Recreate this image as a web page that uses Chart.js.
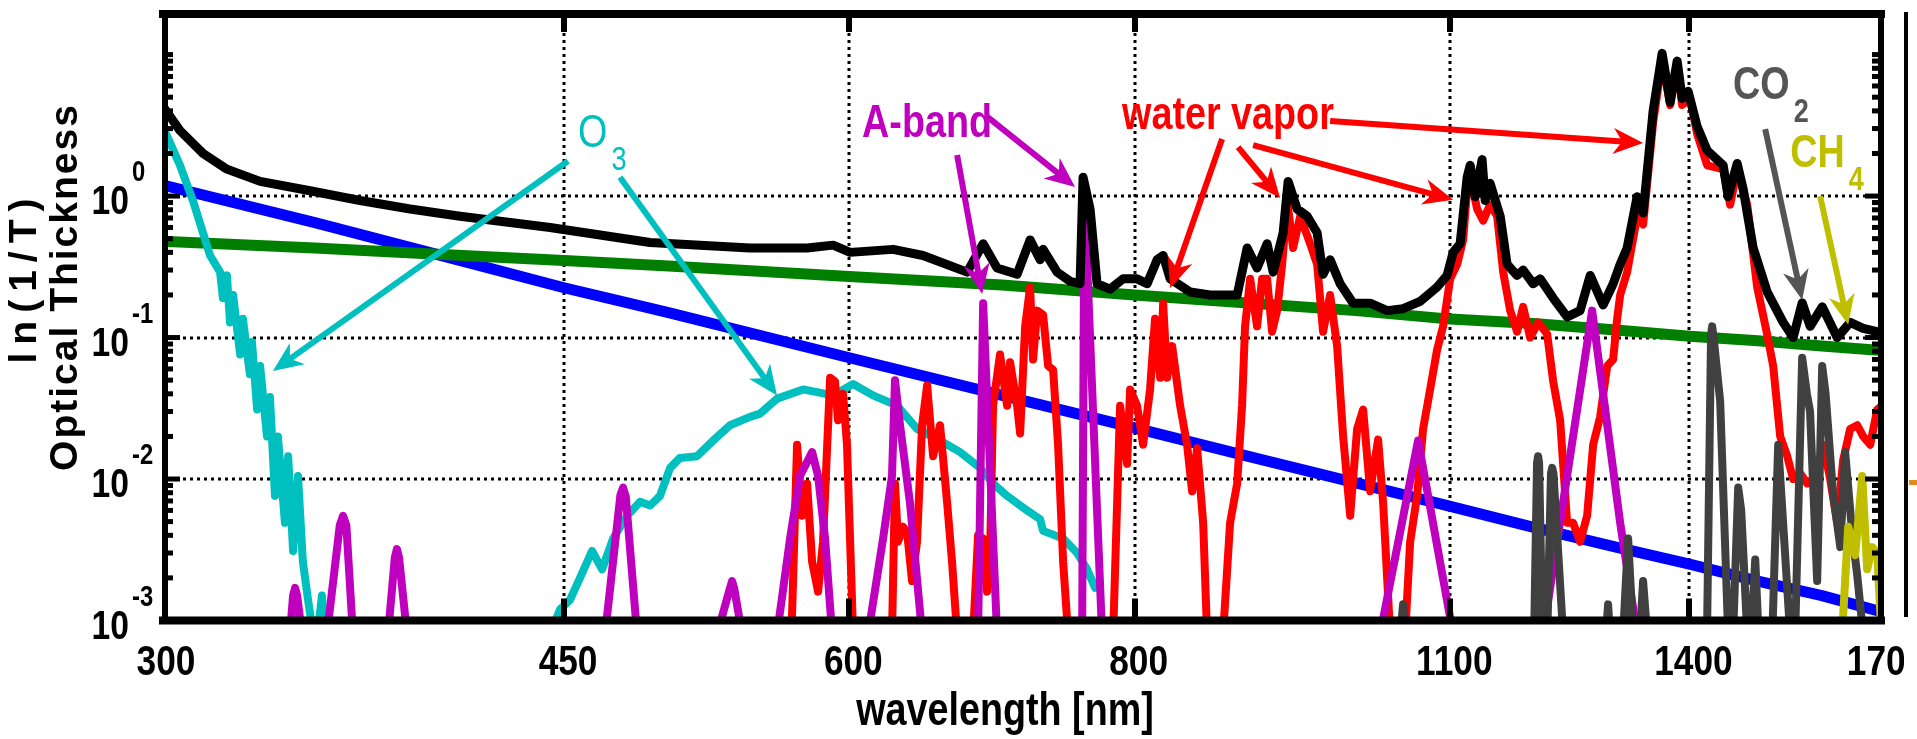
<!DOCTYPE html>
<html>
<head>
<meta charset="utf-8">
<title>Optical thickness spectrum</title>
<script src="https://cdn.jsdelivr.net/npm/chart.js@4.4.1/dist/chart.umd.min.js"></script>
<style>
    html, body { margin: 0; padding: 0; background: #fff; }
    canvas { display: block; }
</style>
</head>
<body>
<canvas id="tauChart" width="1917" height="739"></canvas>
<script>
// Axis ticks
const xTickLabels = [300, 450, 600, 800, 1100, 1400, 1700];
const xGridLines = [450, 600, 800, 1100, 1400];
const yTickValues = [0.001, 0.01, 0.1, 1];
const yTickPowers = ['-3', '-2', '-1', '0'];

// Series: [wavelength nm, optical thickness]
const total = [
    [300, 4.4], [305.5, 2.9], [312.7, 2.0], [320.3, 1.55], [331.2, 1.27], [348.3, 1.09], [366.3, 0.93],
    [385.3, 0.81], [405.2, 0.72], [443.7, 0.6], [490.8, 0.47], [542.8, 0.43], [575, 0.43], [590.3, 0.45],
    [600.5, 0.40], [627.1, 0.42], [646.3, 0.38], [675.7, 0.29], [686.7, 0.46], [696.4, 0.31], [710.6, 0.28],
    [720, 0.49], [727.3, 0.355], [729.5, 0.42], [739.9, 0.29], [749.6, 0.25], [757.2, 0.24], [759.5, 1.36],
    [764.9, 0.81], [770.3, 0.24], [780.5, 0.22], [790.8, 0.26], [802, 0.26], [810.2, 0.24], [818.4, 0.355],
    [823.4, 0.38], [829.2, 0.26], [846.1, 0.21], [863.3, 0.2], [887.2, 0.2], [896.2, 0.43], [905.2, 0.31],
    [914.4, 0.46], [920, 0.29], [929.3, 0.55], [934, 1.27], [942.5, 0.81], [952.1, 0.72], [961.7, 0.55],
    [967.5, 0.28], [974.4, 0.355], [984.3, 0.24], [997.3, 0.175], [1014.5, 0.175], [1032.1, 0.155],
    [1048.8, 0.16], [1067, 0.18], [1085.4, 0.227], [1096.4, 0.275], [1103.1, 0.40], [1110.9, 0.46],
    [1118.8, 1.36], [1122.2, 1.65], [1127.8, 0.99], [1135.8, 1.81], [1139.3, 0.93], [1145, 1.23],
    [1156.7, 0.72], [1164.8, 0.33], [1176.6, 0.275], [1183.8, 0.30], [1195.8, 0.24], [1204.3, 0.26],
    [1220.2, 0.19], [1237.5, 0.14], [1253.8, 0.155], [1266.6, 0.275], [1283.3, 0.17], [1296.3, 0.24],
    [1305.5, 0.33], [1314.7, 0.43], [1328, 0.99], [1336.1, 0.76], [1349.6, 4.0], [1361.9, 10.2],
    [1373, 4.6], [1382.7, 9.0], [1389.7, 4.9], [1398.1, 5.5], [1410.9, 3.1], [1425.2, 2.1], [1448.4, 1.65],
    [1455.7, 0.99], [1469, 1.7], [1477.9, 1.12], [1492.9, 0.43], [1514.1, 0.21], [1538.7, 0.128],
    [1554.3, 0.10], [1568.5, 0.176], [1581.2, 0.12], [1600.5, 0.165], [1624.9, 0.1], [1646.3, 0.128],
    [1668, 0.116], [1691.8, 0.11], [1700, 0.105]
];

const rayleigh = [
    [300, 1.2], [350, 0.65], [400, 0.37], [450, 0.225], [500, 0.15], [600, 0.072], [700, 0.039],
    [800, 0.023], [900, 0.0143], [1000, 0.0094], [1100, 0.0064], [1200, 0.0045], [1300, 0.0033],
    [1400, 0.0025], [1500, 0.0019], [1600, 0.0015], [1700, 0.00115]
];

const aerosol = [
    [300, 0.48], [350, 0.43], [400, 0.385], [450, 0.35], [500, 0.32], [600, 0.27], [700, 0.235],
    [800, 0.2], [900, 0.175], [1000, 0.155], [1100, 0.135], [1200, 0.125], [1300, 0.113],
    [1400, 0.102], [1500, 0.095], [1600, 0.087], [1700, 0.081]
];

const ozone = [
    [300, 3.2], [305.5, 1.65], [309.5, 0.93], [314.9, 0.38], [318.1, 0.29], [319, 0.19], [320.3, 0.275],
    [321.3, 0.128], [322.3, 0.2], [324.6, 0.076], [325.5, 0.136], [327.8, 0.055], [328.5, 0.093],
    [330.2, 0.031], [331.2, 0.063], [333.5, 0.02], [334.5, 0.038], [336.2, 0.0076], [337.2, 0.02],
    [339.6, 0.0049], [340.7, 0.0145], [342.4, 0.0031], [344.1, 0.0105], [345.8, 0.0026], [347.6, 0.0014],
    [349.4, 0.0008], [351, 0.0008], [352.5, 0.0015], [353.6, 0.0008],
    [443.7, 0.0008], [448.2, 0.0012], [452.7, 0.0014], [457.3, 0.002], [462.9, 0.0031], [467.6, 0.0023],
    [472.8, 0.0038], [479.5, 0.0055], [485.9, 0.0069], [490.8, 0.0065], [495.7, 0.0076], [500.8, 0.012],
    [505.8, 0.0141], [514.6, 0.0145], [523, 0.0187], [532, 0.024], [542.8, 0.0275], [548.4, 0.029],
    [557.8, 0.037], [572.7, 0.043], [590.3, 0.039], [602.3, 0.047], [614.5, 0.039], [629.6, 0.033],
    [642.4, 0.0226], [657.5, 0.0187], [670.9, 0.0155], [684.6, 0.012], [693.6, 0.0093], [703.5, 0.0076],
    [717.8, 0.006], [727.3, 0.0052], [729.5, 0.0043], [744.4, 0.0038], [755, 0.003], [762.6, 0.0023],
    [768.8, 0.0017]
];

const oxygen = [
    [338, 0.0008], [341.3, 0.0008], [342.4, 0.0015], [343.1, 0.0017], [343.8, 0.0015], [345.5, 0.0008],
    [354.3, 0.0008], [358.9, 0.0047], [360.1, 0.0055], [361.3, 0.0047], [363.7, 0.0008],
    [376.8, 0.0008], [379.4, 0.0028], [380.2, 0.0032], [381, 0.0028], [384.1, 0.0008],
    [469, 0.0008], [476.3, 0.0077], [477.6, 0.0087], [478.9, 0.0075], [484.4, 0.0008],
    [525.1, 0.0008], [532, 0.0017], [533.1, 0.0019], [534.2, 0.0017], [538.5, 0.0008],
    [557.8, 0.0008], [565.2, 0.0038], [570.9, 0.0105], [577.9, 0.0155], [581.4, 0.0105], [585.5, 0.0038], [589.7, 0.0008],
    [611.5, 0.0008], [620.8, 0.0038], [626.4, 0.0105], [628.3, 0.05], [631.5, 0.024], [637.9, 0.0067], [645.7, 0.0008],
    [683.2, 0.0008], [686.7, 0.175], [696.4, 0.0008],
    [758.8, 0.0008], [760.5, 1.0], [774.2, 0.0008],
    [1024.8, 0.0008], [1064.8, 0.0187], [1103.1, 0.0008],
    [1207.9, 0.0008], [1269.1, 0.155], [1305.5, 0.0049], [1328, 0.0008]
];

const water = [
    [566, 0.0008], [569.2, 0.0175], [572.1, 0.0055], [575, 0.0093], [577.9, 0.0026], [581.4, 0.0016],
    [584.3, 0.0036], [588.5, 0.052], [591.4, 0.049], [593.2, 0.026], [596.2, 0.04], [598.6, 0.0175], [602.3, 0.0008],
    [626.4, 0.0008], [628.3, 0.0093], [630.2, 0.0036], [633.4, 0.0046], [636, 0.0042], [639.2, 0.0019],
    [642.4, 0.0036], [645.7, 0.024], [649, 0.046], [652.9, 0.0145], [657.5, 0.024], [662.2, 0.0068],
    [665.5, 0.0026], [668.9, 0.0008],
    [679.8, 0.0008], [683.2, 0.004], [686.7, 0.0038], [689.4, 0.0016], [691.5, 0.0029], [693.6, 0.033],
    [698.5, 0.076], [703.5, 0.033], [705.6, 0.067], [710.6, 0.033], [712.8, 0.021], [716.4, 0.12],
    [720, 0.227], [722.2, 0.07], [725.1, 0.155], [729.5, 0.145], [733.2, 0.063], [736.9, 0.059],
    [740.6, 0.0175], [744.4, 0.0026], [748.1, 0.0008],
    [782.9, 0.0008], [788.4, 0.033], [794, 0.0128], [796.4, 0.043], [802, 0.033], [806.9, 0.0175],
    [812.6, 0.043], [816.7, 0.136], [820.9, 0.052], [823.4, 0.175], [826.7, 0.052], [830.9, 0.087],
    [837.6, 0.033], [843.5, 0.0175], [847.8, 0.0082], [852.1, 0.0165], [857.3, 0.0049], [860.7, 0.0008],
    [874.7, 0.0008], [880.9, 0.0049], [887.2, 0.0093], [891.6, 0.033], [894.3, 0.12], [898.9, 0.26],
    [905.2, 0.12], [909.8, 0.26], [914.4, 0.26], [919, 0.11], [923.7, 0.155], [928.4, 0.33], [933.1, 0.93],
    [938.7, 0.43], [945.4, 0.72], [955, 0.46], [961.7, 0.33], [967.5, 0.11], [974.4, 0.2], [981.3, 0.087],
    [987.3, 0.02], [994.3, 0.0055], [1001.3, 0.0226], [1007.4, 0.031], [1014.5, 0.0082], [1022.7, 0.019],
    [1027.9, 0.0068], [1035.2, 0.0008],
    [1051, 0.0008], [1056.3, 0.0036], [1063.8, 0.0077], [1070.2, 0.0226], [1077.8, 0.043], [1085.4, 0.082],
    [1092, 0.12], [1099.8, 0.26], [1107.6, 0.33], [1114.3, 0.49], [1119.9, 1.36], [1124.4, 1.2],
    [1130.1, 0.81], [1137, 0.67], [1145, 0.87], [1153.2, 0.72], [1160.2, 0.29], [1168.4, 0.155],
    [1176.6, 0.11], [1183.8, 0.165], [1192.2, 0.1], [1201.8, 0.128], [1212.8, 0.106], [1220.2, 0.049],
    [1228.8, 0.026], [1237.5, 0.0049], [1245, 0.0049], [1253.8, 0.0036], [1262.7, 0.0055], [1270.4, 0.0175],
    [1279.4, 0.0275], [1288.5, 0.063], [1296.3, 0.07], [1301.5, 0.136], [1305.5, 0.2], [1314.7, 0.29],
    [1328, 0.72], [1336.1, 0.63], [1349.6, 3.3], [1361.9, 9.2], [1373, 4.4], [1382.7, 8.4], [1389.7, 4.4],
    [1401, 4.9], [1410.9, 2.75], [1425.2, 1.65], [1448.4, 1.55], [1458.6, 0.87], [1469, 1.55], [1483.9, 0.87],
    [1498.9, 0.227], [1514.1, 0.105], [1523.3, 0.063], [1534.1, 0.02], [1545, 0.0145], [1554.3, 0.01],
    [1565.3, 0.011], [1576.4, 0.0093], [1592.4, 0.01], [1602.1, 0.0175], [1613.4, 0.01], [1624.9, 0.0049],
    [1634.7, 0.0136], [1646.3, 0.0226], [1658, 0.024], [1668, 0.02], [1679.9, 0.0175], [1691.8, 0.031],
    [1700, 0.033]
];

const carbonDioxide = [
    [1040, 0.0008], [1046, 0.0008], [1048.8, 0.0013], [1051.5, 0.0008],
    [1197, 0.0008], [1200.5, 0.013], [1201.8, 0.0145], [1203, 0.013], [1207, 0.0008],
    [1213, 0.0008], [1217.5, 0.011], [1219, 0.012], [1220.5, 0.011], [1232.5, 0.0008],
    [1287, 0.0008], [1289.7, 0.0013], [1292, 0.0008],
    [1309.4, 0.0008], [1316, 0.0038], [1322.7, 0.0008], [1332, 0.0008], [1336, 0.0019], [1341.5, 0.0008],
    [1425, 0.0008], [1430.8, 0.105], [1432.4, 0.12], [1434.5, 0.1], [1444, 0.0355], [1455.7, 0.0008],
    [1463, 0.0008], [1470.5, 0.0087], [1475, 0.006], [1484, 0.0008],
    [1490, 0.0008], [1496, 0.0027], [1501, 0.0008],
    [1522, 0.0008], [1531, 0.0175], [1549.6, 0.0008],
    [1557.5, 0.0008], [1568.5, 0.072], [1576, 0.04], [1581, 0.03], [1592.4, 0.0019], [1600.5, 0.063],
    [1606, 0.04], [1618, 0.008], [1630, 0.0033], [1638, 0.0155], [1650, 0.004], [1658, 0.0021], [1668, 0.0008]
];

const methane = [
    [1633, 0.0008], [1643, 0.0046], [1654.6, 0.0029], [1666.4, 0.0105], [1674.8, 0.0023],
    [1683.3, 0.0033], [1691.8, 0.003], [1699, 0.0008]
];

// Annotation texts and arrows, in [wavelength, optical thickness]
const labels = [
    { text: 'O', sub: '3', at: [456.4, 2.22], color: '#00bfbf', weight: 'normal' },
    { text: 'A-band', at: [607.8, 2.61], color: '#bf00bf', weight: 'bold' },
    { text: 'water vapor', at: [790, 2.97], color: '#ff0000', weight: 'bold' },
    { text: 'CO', sub: '2', at: [1463, 4.85], color: '#555555', weight: 'bold' },
    { text: 'CH', sub: '4', at: [1549.6, 1.6], color: '#bfbf00', weight: 'bold' }
];
const pointers = [
    { color: '#00bfbf', from: [451.8, 1.77], to: [335.5, 0.058] },
    { color: '#00bfbf', from: [476.1, 1.36], to: [557.8, 0.039] },
    { color: '#bf00bf', from: [668.9, 1.95], to: [686, 0.203] },
    { color: '#bf00bf', from: [688.1, 3.73], to: [753.4, 1.16] },
    { color: '#ff0000', from: [873.8, 2.53], to: [829.2, 0.224] },
    { color: '#ff0000', from: [888, 2.22], to: [926.5, 0.97] },
    { color: '#ff0000', from: [901.6, 2.29], to: [1103.1, 0.94] },
    { color: '#ff0000', from: [974.4, 3.39], to: [1336.1, 2.37] },
    { color: '#555555', from: [1511.1, 2.97], to: [1568.5, 0.184] },
    { color: '#bfbf00', from: [1597.2, 1.0], to: [1643, 0.123] }
];

const SANS = "'Liberation Sans', Arial, 'DejaVu Sans', sans-serif";
const SQUEEZE = 0.82; // narrow look of the original Helvetica Narrow labels

function series(label, points, color, width, order) {
    return {
        label: label,
        data: points.map(p => ({ x: p[0], y: p[1] })),
        borderColor: color,
        borderWidth: width,
        pointRadius: 0,
        tension: 0,
        fill: false,
        order: order,
        borderJoinStyle: 'round',
        borderCapStyle: 'round'
    };
}

// draw text squeezed horizontally, returns drawn width
function narrowText(ctx, text, x, y, size, weight, align) {
    ctx.save();
    ctx.font = weight + ' ' + size + 'px ' + SANS;
    const w = ctx.measureText(text).width * SQUEEZE;
    ctx.translate(x, y);
    ctx.scale(SQUEEZE, 1);
    ctx.textAlign = align;
    ctx.fillText(text, 0, 0);
    ctx.restore();
    return w;
}

function drawArrow(ctx, x1, y1, x2, y2, color) {
    const ang = Math.atan2(y2 - y1, x2 - x1);
    const c = Math.cos(ang), s = Math.sin(ang);
    const len = 30, half = 13;
    ctx.strokeStyle = color;
    ctx.fillStyle = color;
    ctx.lineWidth = 6;
    ctx.lineCap = 'butt';
    ctx.beginPath();
    ctx.moveTo(x1, y1);
    ctx.lineTo(x2 - 14 * c, y2 - 14 * s);
    ctx.stroke();
    const bx = x2 - len * c, by = y2 - len * s;
    ctx.beginPath();
    ctx.moveTo(x2, y2);
    ctx.lineTo(bx - s * half, by + c * half);
    ctx.lineTo(x2 - 0.7 * len * c, y2 - 0.7 * len * s);
    ctx.lineTo(bx + s * half, by - c * half);
    ctx.closePath();
    ctx.fill();
}

// Grid, frame, ticks, labels and notes drawn on the canvas around the datasets
const decorPlugin = {
    id: 'decor',
    beforeDatasetsDraw(chart) {
        const ctx = chart.ctx, a = chart.chartArea;
        const xs = chart.scales.x, ys = chart.scales.y;
        ctx.save();
        ctx.strokeStyle = '#000';
        ctx.lineWidth = 3;
        ctx.setLineDash([3, 4]);
        xGridLines.forEach(w => {
            const px = Math.round(xs.getPixelForValue(w));
            ctx.beginPath();
            ctx.moveTo(px, a.top);
            ctx.lineTo(px, a.bottom);
            ctx.stroke();
        });
        yTickValues.slice(1).forEach(v => {
            const py = Math.round(ys.getPixelForValue(v));
            ctx.beginPath();
            ctx.moveTo(a.left, py);
            ctx.lineTo(a.right, py);
            ctx.stroke();
        });
        ctx.restore();
    },
    afterDatasetsDraw(chart) {
        const ctx = chart.ctx, a = chart.chartArea;
        const xs = chart.scales.x, ys = chart.scales.y;
        ctx.save();
        ctx.textBaseline = 'alphabetic';

        // arrows and labels
        pointers.forEach(p => {
            drawArrow(ctx, xs.getPixelForValue(p.from[0]), ys.getPixelForValue(p.from[1]),
                xs.getPixelForValue(p.to[0]), ys.getPixelForValue(p.to[1]), p.color);
        });
        labels.forEach(l => {
            const px = xs.getPixelForValue(l.at[0]), py = ys.getPixelForValue(l.at[1]);
            ctx.fillStyle = l.color;
            const w = narrowText(ctx, l.text, px, py, 46, l.weight, 'left');
            if (l.sub) {
                narrowText(ctx, l.sub, px + w + 4, py + 23, 33, l.weight, 'left');
            }
        });

        // frame
        ctx.fillStyle = '#000';
        ctx.fillRect(a.left - 3, a.top - 2, a.right - a.left + 6, 8);
        ctx.fillRect(a.left - 3, a.bottom - 4, a.right - a.left + 6, 8);
        ctx.fillRect(a.left, a.top, 6, a.bottom - a.top);
        ctx.fillRect(a.right - 4, a.top, 6, a.bottom - a.top);

        // x ticks (inside, top and bottom)
        xGridLines.forEach(w => {
            const px = Math.round(xs.getPixelForValue(w));
            ctx.fillRect(px - 3, a.bottom - 22, 6, 20);
            ctx.fillRect(px - 3, a.top + 2, 6, 18);
        });

        // y ticks, major and minor, on both sides
        for (let d = -3; d <= 1; d++) {
            for (let m = 1; m <= 9; m++) {
                const v = m * Math.pow(10, d);
                if (v <= 0.001 || v >= 20) continue;
                const py = ys.getPixelForValue(v);
                const major = m === 1 && d < 1;
                const len = major ? 18 : 11;
                ctx.fillRect(a.left, py - 2.5, len, 5);
                ctx.fillRect(a.right - len + 1, py - 2.5, len, 5);
            }
        }

        // x tick labels
        xTickLabels.forEach(w => {
            narrowText(ctx, String(w), xs.getPixelForValue(w) + 4, 675, 43, 'bold', 'center');
        });

        // y tick labels with powers
        yTickValues.forEach((v, i) => {
            const py = ys.getPixelForValue(v);
            narrowText(ctx, '10', 129, py + 18, 41, 'bold', 'right');
            narrowText(ctx, yTickPowers[i], 132, py - 15, 29, 'bold', 'left');
        });

        // axis titles
        narrowText(ctx, 'wavelength [nm]', 1005, 725, 46, 'bold', 'center');

        ctx.textBaseline = 'middle';
        ctx.textAlign = 'center';
        ctx.font = 'bold 39px ' + SANS;
        ctx.save();
        ctx.translate(25, 281);
        ctx.rotate(-Math.PI / 2);
        ctx.letterSpacing = '8px';
        ctx.fillText('ln(1/T)', 4, 0);
        ctx.restore();
        ctx.save();
        ctx.translate(66, 288);
        ctx.rotate(-Math.PI / 2);
        ctx.letterSpacing = '2px';
        ctx.fillText('Optical Thickness', 1, 0);
        ctx.restore();

        // edge of the neighbouring panel
        ctx.fillStyle = '#fff';
        ctx.fillRect(1904, 0, 13, 739);
        ctx.fillStyle = '#000';
        ctx.fillRect(1904, 12, 4, 605);
        ctx.fillStyle = '#e08a20';
        ctx.fillRect(1909, 480, 8, 5);

        ctx.restore();
    }
};

const chart = new Chart(document.getElementById('tauChart').getContext('2d'), {
    type: 'line',
    data: {
        datasets: [
            series('total', total, '#000000', 9, 0),
            series('CH4', methane, '#bfbf00', 8, 1),
            series('CO2', carbonDioxide, '#404040', 8, 2),
            series('O2', oxygen, '#bf00bf', 8, 3),
            series('H2O', water, '#ff0000', 8, 4),
            series('O3', ozone, '#00bfbf', 8, 5),
            series('aerosol', aerosol, '#007f00', 11, 6),
            series('Rayleigh', rayleigh, '#0000ff', 11, 7)
        ]
    },
    options: {
        responsive: false,
        animation: false,
        devicePixelRatio: 1,
        events: [],
        layout: { padding: { left: 162, top: 12, right: 35, bottom: 118.5 } },
        plugins: { legend: { display: false }, tooltip: { enabled: false } },
        scales: {
            x: { type: 'logarithmic', min: 300, max: 1700, display: false },
            y: { type: 'logarithmic', min: 0.001, max: 20, display: false }
        }
    },
    plugins: [decorPlugin]
});
</script>
</body>
</html>
